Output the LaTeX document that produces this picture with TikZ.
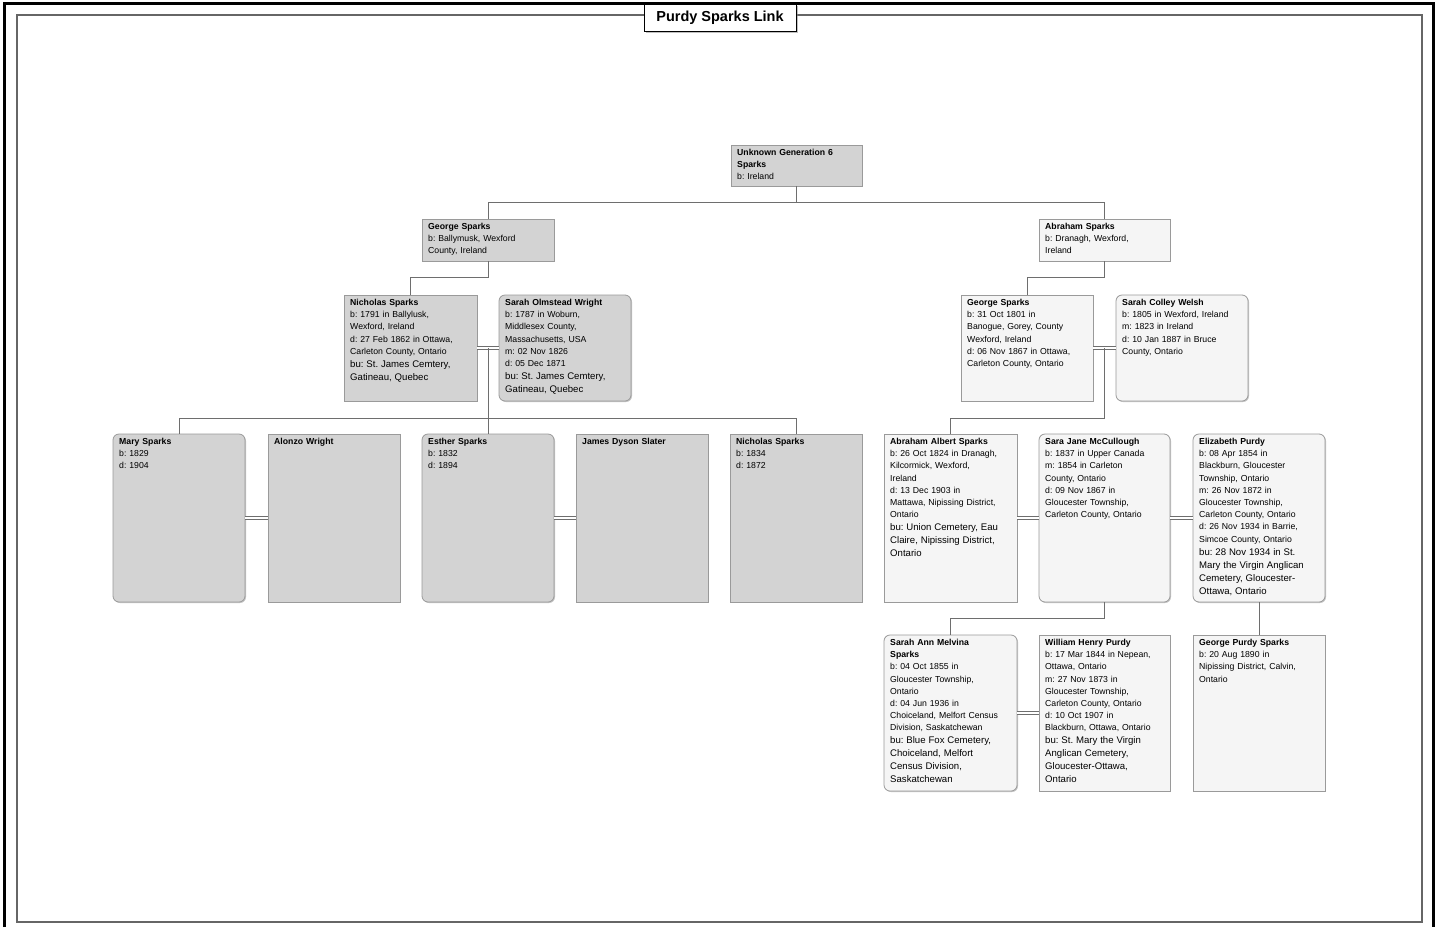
\documentclass[tikz,border=0pt]{standalone}
\usepackage{fontspec}
\setmainfont{Liberation Sans}
\usetikzlibrary{shadows,calc}
\definecolor{boxdark}{HTML}{D3D3D3}
\definecolor{boxlight}{HTML}{F5F5F5}
\definecolor{edge}{HTML}{9A9A9A}
\definecolor{conncol}{HTML}{6E6E6E}
\frenchspacing
\newcommand{\rgf}{\fontsize{8.7}{12.2}\selectfont\frenchspacing}
\newcommand{\buf}{\fontsize{9.6}{13}\selectfont}
\tikzset{
  pbase/.style={draw=edge, line width=0.8pt, inner sep=0pt, outer sep=0pt,
    drop shadow={shadow xshift=1pt, shadow yshift=-1pt, fill=black!45}},
  dsq/.style={pbase, fill=boxdark},
  drd/.style={pbase, fill=boxdark, rounded corners=6pt},
  lsq/.style={pbase, fill=boxlight},
  lrd/.style={pbase, fill=boxlight, rounded corners=6pt},
  txt/.style={anchor=north west, align=left, text width=140pt, inner sep=0pt, font=\rgf},
  conn/.style={draw=conncol, line width=0.9pt},
  marr/.style={draw=conncol, line width=0.8pt, double=white, double distance=2pt},
}
\newcommand{\ptext}[2]{\node[txt] (#1t) at ([xshift=6pt,yshift=-4pt]#1.north west) {#2};}
\begin{document}
\begin{tikzpicture}[x=1pt,y=-1pt]
\useasboundingbox (0,0) rectangle (1437,927);
\fill[white] (0,0) rectangle (1437,927);
% frames
\draw[black, line width=3pt] (4.5,927) -- (4.5,3.5) -- (1433.5,3.5) -- (1433.5,927);
\draw[draw=black!60, line width=2pt] (17,15) rectangle (1422,922);
\node[draw=black, fill=white, line width=1pt, minimum width=152pt, minimum height=27pt, inner sep=0pt,
  drop shadow={shadow xshift=1.5pt, shadow yshift=-1.5pt, fill=black!50},
  font=\fontsize{14.5}{16}\selectfont\bfseries] (title) at (720,17.5) {Purdy Sparks Link};

% person boxes
\node[dsq, minimum width=131pt, minimum height=41pt] (U) at (796.5,165.5) {};
\node[dsq, minimum width=132pt, minimum height=42pt] (GSa) at (488,240) {};
\node[lsq, minimum width=131pt, minimum height=42pt] (AS) at (1104.5,240) {};
\node[dsq, minimum width=133pt, minimum height=106pt] (NSa) at (410.5,348) {};
\node[drd, minimum width=132pt, minimum height=106pt] (SOW) at (565,348) {};
\node[lsq, minimum width=132pt, minimum height=106pt] (GSb) at (1027,348) {};
\node[lrd, minimum width=132pt, minimum height=106pt] (SCW) at (1182,348) {};
\node[drd, minimum width=132pt, minimum height=168pt] (MS) at (179,518) {};
\node[dsq, minimum width=132pt, minimum height=168pt] (AW) at (334,518) {};
\node[drd, minimum width=132pt, minimum height=168pt] (ES) at (488,518) {};
\node[dsq, minimum width=132pt, minimum height=168pt] (JDS) at (642,518) {};
\node[dsq, minimum width=132pt, minimum height=168pt] (NSb) at (796,518) {};
\node[lsq, minimum width=133pt, minimum height=168pt] (AAS) at (950.5,518) {};
\node[lrd, minimum width=131pt, minimum height=168pt] (SJM) at (1104.5,518) {};
\node[lrd, minimum width=132pt, minimum height=168pt] (EP) at (1259,518) {};
\node[lrd, minimum width=133pt, minimum height=156pt] (SAMS) at (950.5,713) {};
\node[lsq, minimum width=131pt, minimum height=156pt] (WHP) at (1104.5,713) {};
\node[lsq, minimum width=132pt, minimum height=156pt] (GPS) at (1259,713) {};

% texts
\ptext{U}{\textbf{Unknown Generation 6}\\\textbf{Sparks}\\b: Ireland}
\ptext{GSa}{\textbf{George Sparks}\\b: Ballymusk, Wexford\\County, Ireland}
\ptext{AS}{\textbf{Abraham Sparks}\\b: Dranagh, Wexford,\\Ireland}
\ptext{NSa}{\textbf{Nicholas Sparks}\\b: 1791 in Ballylusk,\\Wexford, Ireland\\d: 27 Feb 1862 in Ottawa,\\Carleton County, Ontario\par{\buf bu: St. James Cemtery,\\Gatineau, Quebec\par}}
\ptext{SOW}{\textbf{Sarah Olmstead Wright}\\b: 1787 in Woburn,\\Middlesex County,\\Massachusetts, USA\\m: 02 Nov 1826\\d: 05 Dec 1871\par{\buf bu: St. James Cemtery,\\Gatineau, Quebec\par}}
\ptext{GSb}{\textbf{George Sparks}\\b: 31 Oct 1801 in\\Banogue, Gorey, County\\Wexford, Ireland\\d: 06 Nov 1867 in Ottawa,\\Carleton County, Ontario}
\ptext{SCW}{\textbf{Sarah Colley Welsh}\\b: 1805 in Wexford, Ireland\\m: 1823 in Ireland\\d: 10 Jan 1887 in Bruce\\County, Ontario}
\ptext{MS}{\textbf{Mary Sparks}\\b: 1829\\d: 1904}
\ptext{AW}{\textbf{Alonzo Wright}}
\ptext{ES}{\textbf{Esther Sparks}\\b: 1832\\d: 1894}
\ptext{JDS}{\textbf{James Dyson Slater}}
\ptext{NSb}{\textbf{Nicholas Sparks}\\b: 1834\\d: 1872}
\ptext{AAS}{\textbf{Abraham Albert Sparks}\\b: 26 Oct 1824 in Dranagh,\\Kilcormick, Wexford,\\Ireland\\d: 13 Dec 1903 in\\Mattawa, Nipissing District,\\Ontario\par{\buf bu: Union Cemetery, Eau\\Claire, Nipissing District,\\Ontario\par}}
\ptext{SJM}{\textbf{Sara Jane McCullough}\\b: 1837 in Upper Canada\\m: 1854 in Carleton\\County, Ontario\\d: 09 Nov 1867 in\\Gloucester Township,\\Carleton County, Ontario}
\ptext{EP}{\textbf{Elizabeth Purdy}\\b: 08 Apr 1854 in\\Blackburn, Gloucester\\Township, Ontario\\m: 26 Nov 1872 in\\Gloucester Township,\\Carleton County, Ontario\\d: 26 Nov 1934 in Barrie,\\Simcoe County, Ontario\par{\buf bu: 28 Nov 1934 in St.\\Mary the Virgin Anglican\\Cemetery, Gloucester-\\Ottawa, Ontario\par}}
\ptext{SAMS}{\textbf{Sarah Ann Melvina}\\\textbf{Sparks}\\b: 04 Oct 1855 in\\Gloucester Township,\\Ontario\\d: 04 Jun 1936 in\\Choiceland, Melfort Census\\Division, Saskatchewan\par{\buf bu: Blue Fox Cemetery,\\Choiceland, Melfort\\Census Division,\\Saskatchewan\par}}
\ptext{WHP}{\textbf{William Henry Purdy}\\b: 17 Mar 1844 in Nepean,\\Ottawa, Ontario\\m: 27 Nov 1873 in\\Gloucester Township,\\Carleton County, Ontario\\d: 10 Oct 1907 in\\Blackburn, Ottawa, Ontario\par{\buf bu: St. Mary the Virgin\\Anglican Cemetery,\\Gloucester-Ottawa,\\Ontario\par}}
\ptext{GPS}{\textbf{George Purdy Sparks}\\b: 20 Aug 1890 in\\Nipissing District, Calvin,\\Ontario}

% parent-child connectors
\draw[conn] (U.south) |- (GSa.north |- 0,202) -- (GSa.north);
\draw[conn] (U.south) |- (AS.north |- 0,202) -- (AS.north);
\draw[conn] (GSa.south) |- (NSa.north |- 0,277) -- (NSa.north);
\draw[conn] (AS.south) |- (GSb.north |- 0,277) -- (GSb.north);

% couples
\draw[marr] (NSa.east) -- (SOW.west);
\coordinate (m1) at ($(NSa.east)!0.5!(SOW.west)$);
\draw[marr] (GSb.east) -- (SCW.west);
\coordinate (m2) at ($(GSb.east)!0.5!(SCW.west)$);
\draw[marr] (MS.east) -- (AW.west);
\draw[marr] (ES.east) -- (JDS.west);
\draw[marr] (AAS.east) -- (SJM.west);
\draw[marr] (SJM.east) -- (EP.west);
\draw[marr] (SAMS.east) -- (WHP.west);

\draw[conn] (m1) |- (MS.north |- 0,418) -- (MS.north);
\draw[conn] (m1) -- (ES.north);
\draw[conn] (m1) |- (NSb.north |- 0,418) -- (NSb.north);
\draw[conn] (m2) |- (AAS.north |- 0,418) -- (AAS.north);
\draw[conn] (SJM.south) |- (SAMS.north |- 0,618) -- (SAMS.north);
\draw[conn] (EP.south) -- (GPS.north);
\end{tikzpicture}
\end{document}
